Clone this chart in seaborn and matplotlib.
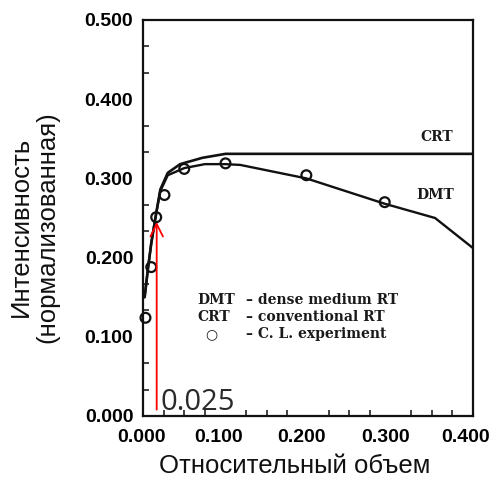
import matplotlib
matplotlib.use('Agg')
import matplotlib.pyplot as plt
import matplotlib.transforms as mtransforms
import seaborn as sns
import numpy as np

# curves
crt_x = [0.002, 0.006, 0.010, 0.016, 0.021, 0.030, 0.045, 0.072, 0.100, 0.400]
crt_y = [0.150, 0.186, 0.218, 0.256, 0.286, 0.307, 0.318, 0.326, 0.331, 0.331]

dmt_x = [0.002, 0.006, 0.010, 0.016, 0.021, 0.030, 0.050, 0.075, 0.100, 0.118, 0.198, 0.293, 0.354, 0.400]
dmt_y = [0.150, 0.186, 0.218, 0.256, 0.284, 0.304, 0.313, 0.318, 0.318, 0.317, 0.300, 0.268, 0.250, 0.212]

exp_x = [0.003, 0.010, 0.016, 0.026, 0.050, 0.100, 0.198, 0.293]
exp_y = [0.124, 0.188, 0.251, 0.279, 0.312, 0.319, 0.304, 0.270]

x_ticks = [0.0, 0.1, 0.2, 0.3, 0.4]
y_ticks = [0.0, 0.1, 0.2, 0.3, 0.4, 0.5]
x_labels = ['0.000', '0.100', '0.200', '0.300', '0.400']
y_labels = ['0.000', '0.100', '0.200', '0.300', '0.400', '0.500']

marker_x = 0.0166
marker_y = 0.245
marker_label = '0.025'

legend_keys = ['DMT', 'CRT', '\u25cb']
legend_texts = ['\u2013 dense medium RT', '\u2013 conventional RT', '\u2013 C. L. experiment']

sns.set_style('ticks')
plt.rcParams['font.family'] = ['Liberation Sans', 'DejaVu Sans']

fig = plt.figure(figsize=(4.91, 4.79), dpi=100)
ax = fig.add_axes([143 / 491, 63 / 479, 330 / 491, 396 / 479])

sns.lineplot(x=crt_x, y=crt_y, ax=ax, color='#111111', lw=1.9, sort=False)
sns.lineplot(x=dmt_x, y=dmt_y, ax=ax, color='#111111', lw=1.7, sort=False)
sns.scatterplot(x=exp_x, y=exp_y, ax=ax, marker='o', s=50, facecolors='none',
                edgecolor='#111111', linewidth=1.6, zorder=3, clip_on=False)

ax.set_xlim(0, 0.4)
ax.set_ylim(0, 0.5)
ax.set_xticks(x_ticks)
ax.set_xticklabels(x_labels)
ax.set_yticks(y_ticks)
ax.set_yticklabels(y_labels)
ax.set_xticks(np.linspace(0, 0.4, 17), minor=True)
ax.set_yticks(np.linspace(0, 0.5, 16), minor=True)
ax.tick_params(which='major', length=0, labelcolor='black')
ax.tick_params(axis='x', which='major', pad=9)
ax.tick_params(axis='y', which='major', pad=7)
ax.tick_params(axis='both', which='minor', direction='in', length=4, width=1.2, color='#222222')
for lab in ax.get_xticklabels() + ax.get_yticklabels():
    lab.set_fontweight('bold')
    lab.set_fontsize(14)

# the pasted labels in the original sit a little left of their ticks
x_shift = [-1, -7, -7, -5, -7]
for lab, dx in zip(ax.get_xticklabels(), x_shift):
    lab.set_transform(lab.get_transform() + mtransforms.ScaledTranslation(dx / 100, 0, fig.dpi_scale_trans))

for sp in ax.spines.values():
    sp.set_visible(True)
    sp.set_linewidth(1.6)
    sp.set_color('#111111')

ax.set_xlabel('Относительный объем', fontsize=18.5, color='#111111')
ax.xaxis.set_label_coords(0.46, -0.095)
ax.set_ylabel('Интенсивность\n(нормализованная)', fontsize=18.5, linespacing=1.12,
              va='center', color='#111111')
ax.yaxis.set_label_coords(-0.33, 0.478)

# curve names
serif = dict(family=['DejaVu Serif'], fontweight='bold', fontsize=10, color='#1a1a1a')
ax.text(0.356, 0.352, 'CRT', ha='center', va='center', **serif)
ax.text(0.354, 0.279, 'DMT', ha='center', va='center', **serif)

# key block
for i, (k, t) in enumerate(zip(legend_keys, legend_texts)):
    yy = 0.146 - i * 0.0215
    if k == '\u25cb':
        ax.text(0.083, yy, k, ha='center', va='center', **serif)
    else:
        ax.text(0.066, yy, k, ha='left', va='center', **serif)
    ax.text(0.125, yy, t, ha='left', va='center', **serif)

# red marker arrow
ax.annotate('', xy=(marker_x, marker_y), xytext=(marker_x, 0.008),
            arrowprops=dict(arrowstyle='->,head_length=0.6,head_width=0.3',
                            color='red', lw=1.3, mutation_scale=15, shrinkA=0, shrinkB=0))
ax.text(marker_x + 0.005, 0.008, marker_label, ha='left', va='baseline',
        fontsize=21, family=['Open Sans'], color='#2a2a2a')

fig.savefig('out.png', dpi=100)
